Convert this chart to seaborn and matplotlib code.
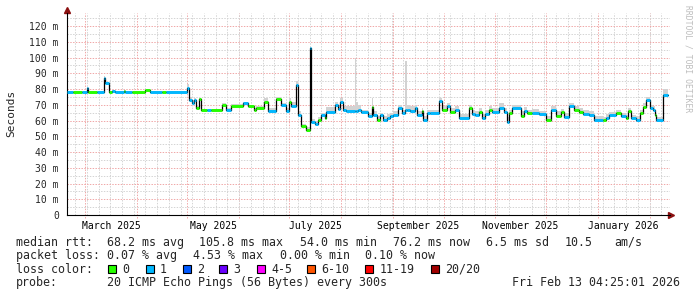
import matplotlib
matplotlib.use("Agg")
import matplotlib.pyplot as plt
import matplotlib.dates as mdates
from matplotlib.patches import Rectangle
from matplotlib.ticker import MultipleLocator, FuncFormatter, FixedLocator
import seaborn as sns
import pandas as pd

# ---------------- data ----------------
dates = ["2025-02-18", "2025-02-22", "2025-02-27", "2025-03-02", "2025-03-03", "2025-03-08",
         "2025-03-12", "2025-03-13", "2025-03-15", "2025-03-17", "2025-03-19", "2025-03-24",
         "2025-03-25", "2025-03-29", "2025-04-06", "2025-04-09", "2025-04-16", "2025-04-18",
         "2025-05-01", "2025-05-02", "2025-05-04", "2025-05-05", "2025-05-06", "2025-05-08",
         "2025-05-09", "2025-05-13", "2025-05-15", "2025-05-22", "2025-05-24", "2025-05-27",
         "2025-06-03", "2025-06-06", "2025-06-10", "2025-06-11", "2025-06-16", "2025-06-18",
         "2025-06-23", "2025-06-26", "2025-06-29", "2025-07-01", "2025-07-02", "2025-07-05",
         "2025-07-06", "2025-07-08", "2025-07-11", "2025-07-13", "2025-07-14", "2025-07-16",
         "2025-07-18", "2025-07-20", "2025-07-22", "2025-07-23", "2025-07-28", "2025-07-30",
         "2025-07-31", "2025-08-02", "2025-08-04", "2025-08-09", "2025-08-10", "2025-08-11",
         "2025-08-13",
         "2025-08-17", "2025-08-19", "2025-08-20", "2025-08-22", "2025-08-24", "2025-08-26",
         "2025-08-28", "2025-08-30", "2025-09-01", "2025-09-04", "2025-09-06", "2025-09-08",
         "2025-09-09", "2025-09-11", "2025-09-14", "2025-09-15", "2025-09-18", "2025-09-19",
         "2025-09-21", "2025-09-23", "2025-09-28", "2025-09-30", "2025-10-03", "2025-10-05",
         "2025-10-08", "2025-10-10", "2025-10-16", "2025-10-18", "2025-10-20", "2025-10-22",
         "2025-10-24", "2025-10-26", "2025-10-28", "2025-10-30", "2025-11-03", "2025-11-06",
         "2025-11-08", "2025-11-09", "2025-11-11", "2025-11-16", "2025-11-18", "2025-11-20",
         "2025-11-23", "2025-11-27", "2025-12-01", "2025-12-04", "2025-12-07", "2025-12-10",
         "2025-12-12", "2025-12-15", "2025-12-18", "2025-12-21", "2025-12-23", "2025-12-27",
         "2025-12-30", "2026-01-04", "2026-01-06", "2026-01-08", "2026-01-12", "2026-01-15",
         "2026-01-18", "2026-01-19", "2026-01-21", "2026-01-24", "2026-01-26", "2026-01-28",
         "2026-01-30", "2026-02-01", "2026-02-03", "2026-02-04", "2026-02-05", "2026-02-09",
         "2026-02-12"]

median_ms = [78.0, 78.0, 78.0, 80.4, 78.0, 78.0,
             87.2, 83.6, 78.0, 79.0, 78.0, 79.0,
             78.0, 78.0, 79.5, 78.0, 78.0, 78.0,
             80.8, 73.0, 70.9, 73.0, 67.7, 73.5,
             66.5, 66.5, 66.5, 69.8, 66.5, 69.5,
             71.0, 69.0, 66.5, 67.7, 72.0, 66.3,
             73.5, 69.8, 66.3, 72.0, 69.0, 82.5,
             63.5, 56.5, 54.0, 105.8, 59.3, 58.0,
             60.2, 63.5, 61.3, 65.6, 69.8, 67.5,
             72.0, 66.5, 66.0, 66.0, 66.0, 66.5,
             65.2,
             62.9, 68.8, 63.5, 60.3, 63.5, 60.3,
             61.5, 63.0, 63.5, 67.7, 64.8, 66.7,
             66.7, 66.3, 67.7, 63.5, 66.3, 60.5,
             64.5, 64.8, 72.4, 66.7, 69.0, 65.6,
             66.7, 61.7, 67.7, 64.0, 63.2, 65.6,
             61.7, 64.0, 66.7, 65.6, 67.7, 65.6,
             59.3, 64.5, 67.7, 63.0, 66.3, 64.5,
             65.0, 64.0, 60.5, 67.0, 63.0, 65.6,
             62.0, 69.0, 66.7, 65.6, 64.0, 63.5,
             60.5, 60.5, 61.7, 63.2, 64.5, 62.8,
             61.3, 66.3, 61.3, 60.5, 64.8, 68.8,
             73.0, 67.7, 67.0, 63.5, 60.5, 76.2,
             76.2]

loss_level = [1, 0, 1, 1, 0, 1,
              1, 1, 0, 1, 1, 0,
              1, 0, 0, 1, 0, 1,
              1, 1, 1, 1, 0, 0,
              0, 1, 0, 0, 1, 0,
              1, 0, 0, 0, 0, 1,
              0, 1, 1, 0, 1, 1,
              1, 0, 0, 1, 1, 1,
              0, 1, 0, 1, 1, 1,
              1, 1, 1, 1, 1, 1,
              1,
              1, 0, 1, 0, 1, 1,
              1, 1, 1, 1, 1, 1,
              1, 1, 1, 1, 0, 1,
              1, 1, 1, 0, 1, 0,
              1, 1, 0, 1, 1, 0,
              1, 1, 0, 1, 1, 1,
              1, 0, 1, 0, 1, 0,
              1, 1, 0, 1, 0, 0,
              1, 1, 0, 0, 1, 1,
              1, 0, 1, 1, 0, 1,
              0, 0, 1, 1, 0, 0,
              1, 1, 1, 0, 1, 1,
              1]

smoke_max_ms = [78.6, 78.6, 79.0, 81.2, 78.6, 78.6,
                88.0, 84.4, 78.8, 79.6, 78.6, 79.6,
                78.6, 78.6, 80.0, 78.6, 78.6, 78.6,
                83.0, 75.0, 73.0, 74.0, 69.0, 74.0,
                67.5, 67.5, 67.5, 71.0, 68.0, 70.5,
                72.0, 70.0, 68.0, 69.0, 74.0, 68.0,
                75.0, 71.0, 68.0, 74.0, 72.0, 85.0,
                66.0, 58.0, 56.0, 106.5, 61.0, 60.0,
                62.0, 65.0, 64.0, 68.5, 72.0, 69.5,
                74.0, 69.0, 69.0, 100.0, 72.0, 70.0,
                67.0,
                65.0, 74.0, 66.0, 63.0, 65.0, 63.0,
                64.0, 65.0, 66.0, 70.0, 67.0, 98.0,
                70.0, 69.0, 70.0, 66.0, 68.0, 63.0,
                67.0, 67.0, 74.0, 69.0, 71.0, 68.0,
                69.0, 64.0, 70.0, 67.0, 66.0, 68.0,
                64.0, 67.0, 69.0, 68.0, 71.0, 68.0,
                62.0, 67.0, 70.0, 66.0, 68.5, 67.0,
                67.5, 66.0, 63.0, 69.0, 66.0, 67.5,
                65.0, 71.0, 69.0, 68.0, 66.5, 66.0,
                63.0, 62.5, 64.0, 65.5, 67.0, 65.0,
                63.5, 68.0, 63.5, 63.0, 67.0, 71.0,
                75.0, 70.0, 69.0, 66.0, 62.5, 80.0,
                80.0]

loss_labels = ["0", "1", "2", "3", "4-5", "6-10", "11-19", "20/20"]
loss_colors = ["#26ff00", "#00b8ff", "#0059ff", "#6a00ff", "#ff00ff", "#ff5500", "#ff0000", "#a10000"]

tick_months = ["2025-03", "2025-05", "2025-07", "2025-09", "2025-11", "2026-01"]
tick_labels = ["March 2025", "May 2025", "July 2025", "September 2025", "November 2025", "January 2026"]

rtt_stats = ["68.2 ms avg", "105.8 ms max", "54.0 ms min", "76.2 ms now", "6.5 ms sd", "10.5", "am/s"]
loss_stats = ["0.07 % avg", "4.53 % max", "0.00 % min", "0.10 % now"]

end_time = pd.Timestamp("2026-02-13 04:25:01")
span_days = 360

# ---------------- figure ----------------
W, H = 697, 297
sns.set_style("white")
plt.rcParams["font.family"] = ["DejaVu Sans Mono", "DejaVu Sans"]

fig = plt.figure(figsize=(W / 100, H / 100), dpi=100)
ax = fig.add_axes([67 / W, 82 / H, 603 / W, 202 / H])

df = pd.DataFrame({"date": pd.to_datetime(dates), "median": median_ms,
                   "loss": loss_level, "smoke": smoke_max_ms})

start_time = end_time - pd.Timedelta(days=span_days)
ax.set_xlim(start_time, end_time)
ax.set_ylim(0, 128.3)

# grid
red = "#f0a8a8"
gray = "#d4d4d4"
dash = (0, (1.4, 1.4))
ax.yaxis.set_major_locator(MultipleLocator(10))
ax.yaxis.set_minor_locator(MultipleLocator(5))
ax.grid(which="minor", axis="y", color=gray, lw=0.72, ls=dash, zorder=0)
ax.grid(which="major", axis="y", color=red, lw=0.72, ls=dash, zorder=0.2)
ax.xaxis.set_minor_locator(mdates.WeekdayLocator(byweekday=mdates.SU))
ax.grid(which="minor", axis="x", color=gray, lw=0.72, ls=dash, zorder=0)
for ms in pd.date_range("2025-03-01", "2026-02-01", freq="MS"):
    ax.axvline(ms, ymin=-3 / 202, ymax=1, color=red, lw=0.72, ls=dash, zorder=0.2, clip_on=False)
ax.set_axisbelow(True)

# smoke
ax.fill_between(df["date"], df["median"], df["smoke"], step="post", color="#d2d2d2", lw=0, zorder=1)

# median line (black steps) and loss coloured segments
sns.lineplot(data=df, x="date", y="median", drawstyle="steps-post", color="black",
             lw=0.9, estimator=None, ax=ax, zorder=2)
seg_colors = [loss_colors[l] for l in df["loss"][:-1]]
ax.hlines(df["median"][:-1], df["date"][:-1], df["date"][1:], colors=seg_colors, lw=2.1, zorder=3)

# axes styling
for s in ["top", "right"]:
    ax.spines[s].set_visible(False)
for s in ["left", "bottom"]:
    ax.spines[s].set_color("black")
    ax.spines[s].set_linewidth(0.8)
ax.set_xlabel("")
ax.set_ylabel("")

centers = []
for m in tick_months:
    m0 = pd.Timestamp(m + "-01")
    m1 = m0 + pd.offsets.MonthBegin(1)
    centers.append(mdates.date2num(m0 + (m1 - m0) / 2))
ax.xaxis.set_major_locator(FixedLocator(centers))
ax.set_xticklabels(tick_labels)
ax.tick_params(axis="x", which="major", length=0, pad=4.6, labelsize=7, colors="black")
ax.tick_params(axis="x", which="minor", length=2, width=0.7, color="#b0b0b0", direction="out")
ax.yaxis.set_major_formatter(FuncFormatter(lambda v, p: "0" if v == 0 else f"{int(v)} m"))
ax.tick_params(axis="y", which="major", length=3.5, width=0.7, color="#e09090", pad=2.4, labelsize=7)
ax.tick_params(axis="y", which="minor", length=0)

# arrows
ax.plot([0], [1 + 3 / 202], marker="^", ms=4, color="#8b1010", transform=ax.transAxes, clip_on=False)
ax.plot([1 + 1 / 603], [0], marker=">", ms=4, color="#8b1010", transform=ax.transAxes, clip_on=False)

# texts
def fx(x):
    return x / W

def fy(y):
    return 1 - y / H

fig.text(fx(11), fy(113), "Seconds", rotation=90, ha="center", va="center", fontsize=8)
fig.text(fx(688), fy(59), "RRDTOOL / TOBI OETIKER", rotation=270, ha="center", va="center",
         fontsize=5.8, color="#bdbdbd")

fs = 8.35
# line 1
fig.text(fx(16), fy(245.7), "median rtt:", fontsize=fs, va="baseline")
for px, t in zip([107.3, 199.0, 300.0, 393.3, 486.0, 565.0, 614.0], rtt_stats):
    fig.text(fx(px), fy(245.7), t, fontsize=fs, va="baseline")
# line 2
fig.text(fx(16), fy(259.2), "packet loss:", fontsize=fs, va="baseline")
for px, t in zip([107.3, 192.7, 280.0, 365.0], loss_stats):
    fig.text(fx(px), fy(259.2), t, fontsize=fs, va="baseline")
# line 3
fig.text(fx(16), fy(272.7), "loss color:", fontsize=fs, va="baseline")
square_x = [108.3, 145.7, 182.7, 219.3, 256.7, 306.7, 365.0, 431.0]
for sx, lab, col in zip(square_x, loss_labels, loss_colors):
    fig.add_artist(Rectangle((fx(sx), fy(273.3)), 8 / W, 8 / H, transform=fig.transFigure,
                             facecolor=col, edgecolor="black", lw=0.8))
    fig.text(fx(sx + 14.3), fy(272.7), lab, fontsize=fs, va="baseline")
# line 4
fig.text(fx(16), fy(286.2), "probe:", fontsize=fs, va="baseline")
fig.text(fx(107.3), fy(286.2), "20 ICMP Echo Pings (56 Bytes) every 300s", fontsize=fs, va="baseline")
fig.text(fx(680), fy(286.2), "Fri Feb 13 04:25:01 2026", fontsize=fs, va="baseline", ha="right")

fig.savefig("out.png", dpi=100, facecolor="white")
